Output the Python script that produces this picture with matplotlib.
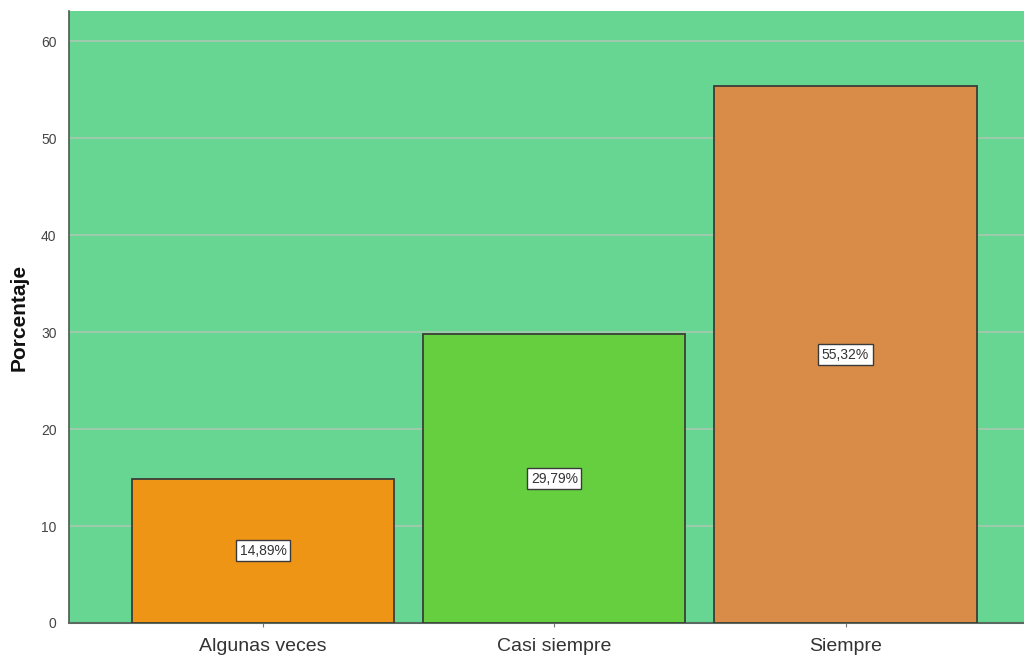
import matplotlib
matplotlib.use("Agg")
import matplotlib.pyplot as plt

categories = ["Algunas veces", "Casi siempre", "Siempre"]
percentages = [14.89, 29.79, 55.32]
bar_colors = ["#EE9516", "#66CF3F", "#D98C47"]
y_ticks = [0, 10, 20, 30, 40, 50, 60]

plt.rcParams["font.family"] = ["Liberation Sans", "DejaVu Sans"]

fig = plt.figure(figsize=(10.24, 6.62), dpi=100)
ax = fig.add_axes([69 / 1024, 39 / 662, (1024 - 69) / 1024, (623 - 11) / 662])
ax.set_facecolor("#66D692")

x = list(range(len(categories)))
bars = ax.bar(x, percentages, width=0.9, color=bar_colors,
              edgecolor="#3A3F38", linewidth=1.3, zorder=3)

for xi, val in zip(x, percentages):
    ax.text(xi, val / 2, f"{val:.2f}%".replace(".", ","), ha="center", va="center",
            fontsize=10, color="#333333", zorder=4,
            bbox=dict(boxstyle="square,pad=0.25", facecolor="white",
                      edgecolor="#3A3A3A", linewidth=1.0))

ax.set_xlim(-0.667, 2.613)
ax.set_ylim(0, 63.1)
ax.set_yticks(y_ticks)
ax.set_yticklabels([str(t) for t in y_ticks], fontsize=10, color="#444444")
ax.set_xticks(x)
ax.set_xticklabels(categories, fontsize=14, color="#333333")
ax.tick_params(axis="y", length=0, pad=9)
ax.tick_params(axis="x", length=3, color="#777777", pad=8)

ax.yaxis.grid(True, color="#A8C8B0", linewidth=1.2, zorder=1)
ax.set_axisbelow(True)

for side in ["top", "right"]:
    ax.spines[side].set_visible(False)
ax.spines["left"].set_color("#4A5A50")
ax.spines["left"].set_linewidth(1.2)
ax.spines["bottom"].set_color("#5A6A60")
ax.spines["bottom"].set_linewidth(1.5)

ax.set_ylabel("Porcentaje", fontsize=15, fontweight="bold", color="#111111",
              labelpad=9)

fig.savefig("out.png", dpi=100)
